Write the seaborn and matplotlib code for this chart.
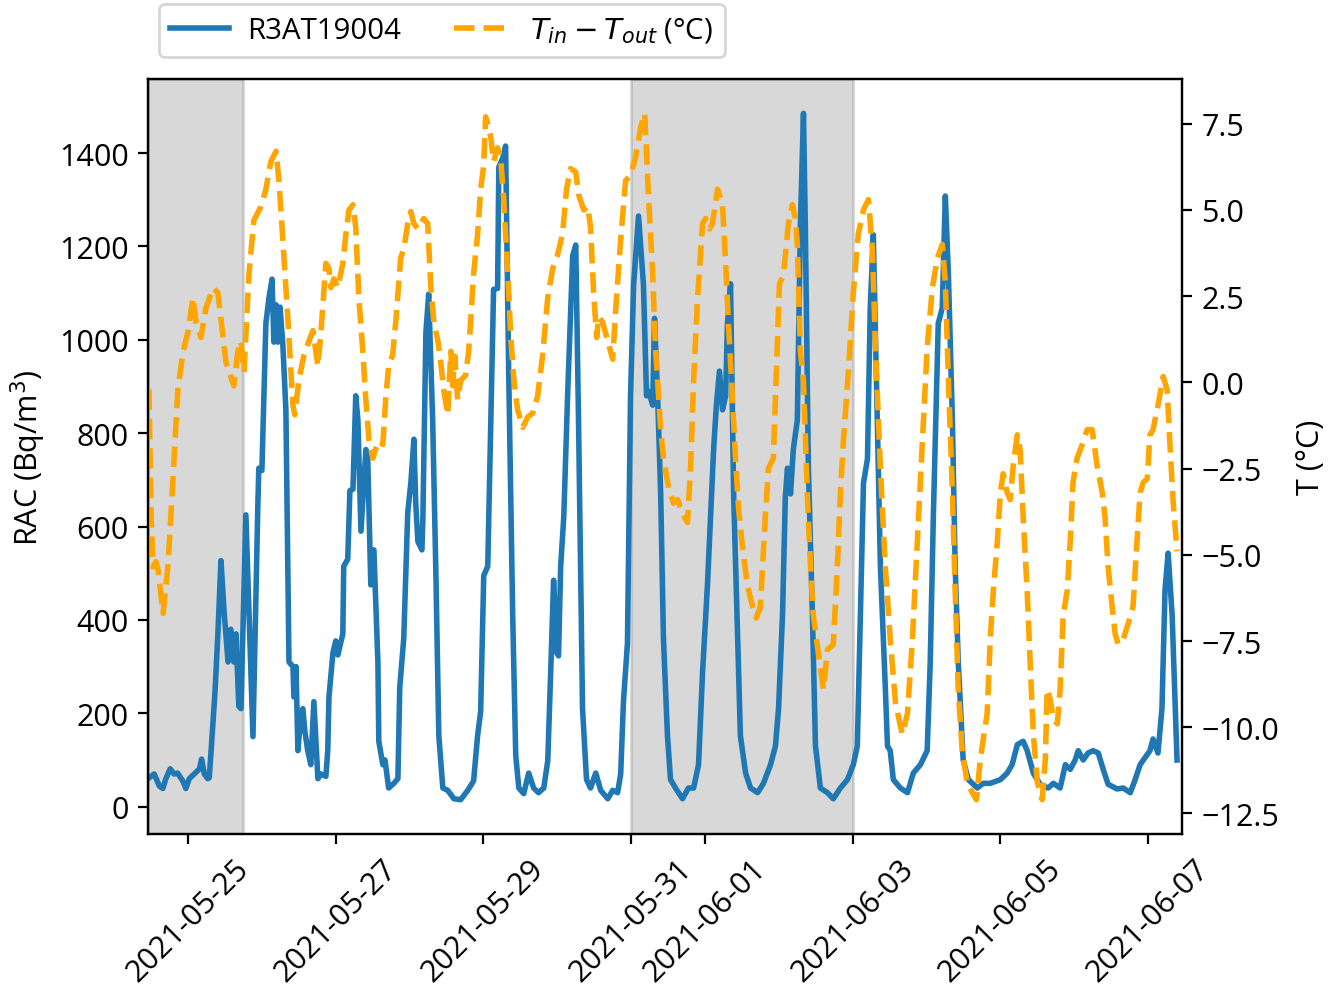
import matplotlib
matplotlib.use("Agg")
import matplotlib.pyplot as plt
import seaborn as sns
import pandas as pd

start = pd.Timestamp("2021-05-24 11:00")

# radon activity concentration, hours after start
rac_hours = [0.0, 2.0, 3.7, 4.8, 5.8, 7.2, 8.5, 9.6, 11.3, 12.3, 13.4, 15.0, 16.7, 17.4, 18.3, 19.4, 19.9,
             20.5, 21.8, 22.7, 23.7, 24.7, 26.0, 26.9, 27.9, 28.6, 29.5, 30.2, 31.8, 34.1, 35.7, 36.0, 37.0,
             38.3, 39.3, 40.3, 40.9, 41.6, 42.2, 42.9, 43.8, 44.8, 45.8, 47.1, 47.4, 48.1, 48.7, 49.7, 50.3,
             51.0, 51.9, 52.9, 53.9, 55.2, 56.2, 57.8, 58.4, 58.8, 60.1, 61.0, 61.7, 63.3, 63.6, 64.9, 65.6,
             66.6, 67.5, 68.2, 69.2, 70.8, 71.4, 72.4, 73.1, 73.4, 74.7, 75.0, 76.3, 77.0, 78.2, 79.9, 81.2,
             81.8, 83.1, 84.4, 85.4, 86.4, 87.0, 87.7, 89.0, 89.3, 90.3, 91.2, 92.5, 93.5, 94.5, 95.8, 97.4,
             99.4, 101.6, 103.9, 105.8, 107.1, 108.1, 109.1, 110.4, 111.4, 112.3, 113.6, 114.0, 115.3, 116.2,
             117.2, 118.5, 119.5, 120.5, 122.1, 123.7, 125.3, 126.9, 128.6, 129.9, 130.8, 131.8, 132.8, 133.4,
             134.1, 135.1, 136.4, 138.0, 139.0, 139.9, 141.2, 142.5, 143.8, 145.5, 147.1, 149.4, 151.0, 152.6,
             153.6, 154.5, 155.8, 156.8, 157.8, 159.4, 161.0, 162.0, 162.7, 164.0, 164.6, 165.6, 166.6, 167.5,
             168.8, 169.8, 171.4, 173.7, 175.6, 177.3, 178.9, 180.2, 181.8, 182.8, 183.8, 184.7, 185.7, 186.7,
             187.7, 188.3, 189.3, 190.3, 191.6, 192.5, 194.2, 195.8, 198.1, 200.0, 202.3, 203.9, 204.9, 206.2,
             207.1, 207.8, 208.8, 209.7, 211.0, 212.0, 213.0, 213.6, 214.6, 215.9, 216.9, 218.5, 220.8, 222.7,
             225.0, 227.3, 229.2, 230.5, 231.5, 232.5, 233.8, 234.7, 235.7, 237.0, 238.0, 239.6, 240.3, 241.2,
             242.2, 244.5, 246.8, 248.7, 251.0, 253.2, 254.2, 255.2, 256.8, 258.1, 259.1, 260.1, 261.4, 262.3,
             263.3, 264.9, 266.6, 269.5, 271.4, 273.7, 277.0, 279.2, 280.8, 282.5, 284.4, 285.7, 287.7, 289.9,
             292.5, 294.2, 296.4, 298.1, 299.7, 301.3, 302.3, 303.9, 305.5, 307.1, 308.8, 310.4, 312.0, 314.9,
             316.9, 319.2, 320.8, 322.4, 324.0, 325.6, 326.6, 328.2, 329.5, 330.5, 331.5, 332.8, 334.4]
rac_values = [60, 70, 44, 39, 60, 81, 70, 72, 55, 39, 60, 70, 81, 102, 70, 60, 62,
              120, 250, 370, 527, 420, 310, 380, 310, 370, 215, 210, 625, 150, 650, 725, 720,
              1035, 1090, 1130, 995, 1075, 995, 1070, 990, 850, 310, 300, 235, 300, 120, 200, 210,
              160, 120, 90, 225, 60, 70, 65, 120, 235, 330, 355, 325, 370, 515, 530, 677,
              680, 880, 828, 590, 765, 745, 475, 550, 550, 310, 140, 90, 100, 40, 50, 60,
              255, 360, 630, 693, 787, 650, 568, 550, 610, 1016, 1098, 828, 515, 152, 40, 35,
              17, 15, 35, 55, 152, 204, 495, 515, 828, 1108, 1110, 1370, 1390, 1415,
              933, 412, 109, 40, 28, 72, 40, 30, 40, 98, 277, 485, 330, 323,
              515, 620, 890, 1180, 1203, 828, 210, 58, 40, 72, 35, 17, 35, 30,
              70, 225, 350, 880, 1118, 1265, 1118, 880, 890, 860, 1046, 880, 670, 360,
              152, 58, 40, 17, 40, 40, 90, 287, 475, 620, 765, 860, 933, 850,
              880, 1035, 1120, 670, 360, 152, 72, 40, 30, 50, 90, 130, 210, 412,
              662, 725, 670, 765, 828, 1245, 1485, 1245, 725, 412, 130, 40, 30, 17,
              40, 58, 90, 130, 412, 693, 745, 1068, 1225, 828, 515, 255, 130, 120,
              58, 40, 30, 72, 90, 120, 310, 620, 1035, 1068, 1308, 1140, 828, 515,
              310, 100, 58, 40, 50, 50, 58, 72, 90, 133, 140, 120, 72, 48,
              40, 50, 40, 90, 80, 100, 120, 100, 115, 120, 115, 80, 48, 38,
              40, 30, 58, 90, 105, 120, 145, 115, 210, 465, 543, 412, 100]

# indoor minus outdoor temperature, hours after start
dt_hours = [0.3, 1.0, 1.6, 2.6, 3.2, 4.9, 6.5, 8.1, 9.7, 11.4, 13.0, 14.6, 15.6, 17.2, 18.8, 21.1, 22.7,
            24.4, 25.3, 26.3, 27.9, 29.2, 30.2, 31.2, 32.8, 34.4, 36.7, 38.3, 39.9, 41.6, 42.5, 43.8, 45.5,
            47.1, 47.7, 49.0, 50.6, 52.3, 53.6, 55.2, 56.2, 57.8, 58.8, 59.4, 60.4, 61.7, 63.3, 64.3, 65.3,
            66.6, 67.5, 68.5, 69.8, 70.8, 71.8, 73.1, 74.0, 75.0, 76.3, 77.3, 78.2, 79.5, 80.5, 82.1, 83.1,
            84.4, 85.4, 86.4, 87.7, 88.6, 89.6, 90.9, 91.9, 92.9, 94.2, 95.1, 96.1, 97.4, 98.4, 99.0, 99.7,
            100.6, 101.6, 103.2, 104.2, 105.8, 107.1, 108.1, 109.1, 109.7, 110.4, 111.4, 112.3, 113.6, 114.6,
            115.6, 116.9, 117.9, 118.8, 120.1, 121.8, 123.4, 125.0, 126.6, 128.2, 129.9, 131.5, 133.1, 134.7,
            136.0, 137.3, 139.0, 139.9, 141.6, 142.9, 143.8, 144.8, 145.8, 146.4, 147.7, 149.4, 151.0, 151.9,
            153.6, 155.2, 156.8, 158.4, 160.1, 161.4, 162.7, 164.0, 164.9, 165.6, 166.6, 167.5, 169.2, 170.8,
            172.1, 173.7, 175.3, 176.3, 177.3, 178.6, 180.2, 181.2, 182.5, 183.4, 185.1, 186.7, 187.7, 188.6,
            189.9, 190.9, 191.9, 193.2, 194.8, 196.4, 197.7, 199.0, 200.6, 201.6, 203.2, 204.2, 205.2, 206.5,
            208.1, 209.4, 210.4, 211.0, 212.0, 213.0, 214.3, 215.3, 216.2, 217.9, 219.5, 220.8, 222.7, 224.0,
            225.0, 226.0, 227.6, 229.2, 230.8, 232.5, 234.1, 235.4, 236.4, 238.0, 239.6, 241.2, 242.9, 245.1,
            246.8, 248.4, 250.0, 251.6, 253.2, 254.9, 256.5, 258.1, 259.1, 260.1, 261.4, 262.3, 263.3, 264.6,
            266.2, 267.9, 269.2, 270.5, 272.7, 273.7, 274.7, 276.0, 277.0, 277.9, 279.2, 280.2, 281.2, 282.5,
            283.4, 284.4, 285.7, 286.7, 287.7, 289.0, 290.6, 291.6, 292.2, 293.2, 294.2, 295.5, 296.4, 297.4,
            298.7, 299.7, 300.6, 301.9, 303.6, 305.2, 306.8, 308.4, 310.1, 311.0, 312.0, 313.3, 314.3, 315.3,
            316.9, 318.5, 320.1, 321.4, 322.4, 323.4, 324.7, 325.6, 326.6, 328.2, 329.9, 331.2, 332.1, 333.1,
            334.4]
dt_values = [-0.2, -3.9, -5.35, -5.2, -5.4, -6.7, -5.3, -2.8, -0.2, 0.9, 1.47, 2.46, 1.75, 1.3, 2.15, 2.74, 2.6,
             1.3, 0.6, 0.33, -0.1, 0.9, 1.2, 0.3, 3.15, 4.7, 5.1, 5.6, 6.4, 6.7, 5.9, 4.15, 1.75,
             -0.67, -0.94, 0.06, 0.76, 1.2, 1.5, 0.47, 1.46, 3.45, 3.3, 2.75, 3.0, 2.75, 3.45, 4.3, 5.0,
             5.15, 4.5, 2.46, 0.9, -0.53, -1.67, -2.2, -1.93, -1.7, -1.8, -0.4, 0.47, 0.8, 1.75, 3.6, 3.87,
             4.6, 4.95, 4.6, 4.45, 4.6, 4.75, 4.6, 2.75, 1.75, 1.2, 0.6, -0.23, -0.94, 0.9, -0.1, 0.76,
             -0.5, 0.06, 0.2, 0.9, 3.15, 4.3, 5.6, 6.3, 7.7, 7.5, 7.1, 6.4, 6.8, 6.5,
             5.3, 3.15, 1.3, 0.17, -0.8, -1.3, -1.0, -0.9, -0.4, 0.76, 2.46, 3.3, 3.7, 4.3,
             5.6, 6.2, 6.1, 5.45, 5.0, 5.1, 4.5, 2.6, 1.3, 1.9, 1.75, 1.2, 0.67, 2.0,
             4.15, 5.85, 6.0, 6.5, 7.4, 7.8, 5.3, 3.15, 1.0, 0.06, -1.37, -2.2, -3.07, -3.5,
             -3.4, -3.8, -4.06, -2.5, 0.06, 2.46, 4.6, 4.75, 4.45, 4.6, 5.6, 5.15, 3.45, 1.75,
             -0.4, -2.2, -3.65, -4.77, -5.9, -6.47, -6.83, -6.5, -3.9, -2.5, -2.2, 0.33, 2.87, 3.1,
             4.6, 5.15, 4.75, 4.0, 0.9, 0.06, -3.36, -5.35, -6.75, -7.9, -8.9, -7.75, -7.6, -5.35,
             -3.2, -1.67, 0.33, 2.6, 4.3, 5.0, 5.3, 3.87, 1.0, -2.5, -5.35, -7.45, -9.3, -10.2,
             -9.6, -7.45, -4.6, -1.8, 1.0, 2.75, 3.6, 4.0, 2.9, 0.06, -3.2, -6.05, -8.9, -10.7,
             -11.6, -11.9, -12.1, -10.9, -9.6, -7.45, -6.05, -4.6, -3.2, -2.65, -3.2, -3.4, -2.37, -1.52,
             -1.95, -3.9, -6.05, -8.2, -10.2, -11.6, -12.1, -10.9, -8.9, -9.2, -9.75, -9.9, -8.9, -6.75,
             -6.05, -4.6, -2.9, -2.2, -1.8, -1.37, -1.37, -2.4, -3.2, -3.9, -5.35, -6.5, -7.3, -7.6,
             -7.45, -7.0, -6.5, -4.6, -3.2, -2.9, -2.8, -1.52, -1.37, -0.67, 0.17, -0.23, -1.8, -3.4,
             -4.9]

shaded = [("2021-05-24 11:00", "2021-05-25 18:00"), ("2021-05-31 00:00", "2021-06-03 00:00")]

rac = pd.DataFrame({"time": start + pd.to_timedelta(rac_hours, unit="h"), "RAC": rac_values})
dt = pd.DataFrame({"time": start + pd.to_timedelta(dt_hours, unit="h"), "dT": dt_values})

plt.rcParams["font.family"] = ["Open Sans", "DejaVu Sans"]
plt.rcParams["font.size"] = 11

fig, ax = plt.subplots(figsize=(6.68, 4.935), dpi=200)
fig.subplots_adjust(left=0.1108, right=0.8847, top=0.9189, bottom=0.154)

for a, b in shaded:
    ax.axvspan(pd.Timestamp(a), pd.Timestamp(b), color="grey", alpha=0.3)

sns.lineplot(data=rac, x="time", y="RAC", ax=ax, color="#1f77b4", lw=2.0, label="R3AT19004", legend=False)
ax2 = ax.twinx()
sns.lineplot(data=dt, x="time", y="dT", ax=ax2, color="orange", lw=2.0, ls="--",
             label=r"$T_{in} - T_{out}$ (°C)", legend=False)

ax.set_xlim(start, start + pd.Timedelta(hours=336))
ax.set_xlabel("")
ax.set_ylabel("RAC (Bq/m$^3$)")
ax2.set_ylabel("T (°C)", labelpad=6)
ax.tick_params(axis="x", rotation=45)
for lbl in ax.get_xticklabels():
    lbl.set_ha("center")

h1, l1 = ax.get_legend_handles_labels()
h2, l2 = ax2.get_legend_handles_labels()
ax.legend(h1 + h2, l1 + l2, loc="lower left", bbox_to_anchor=(-0.004, 1.01), ncol=2,
          fontsize=10.6, handletextpad=0.6, columnspacing=1.8)

fig.savefig("out.png")
